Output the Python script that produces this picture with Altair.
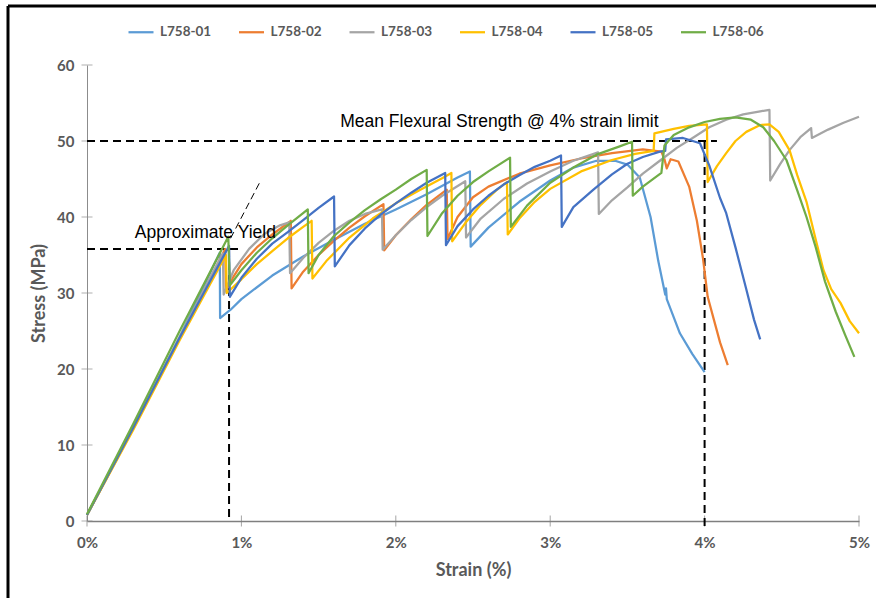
import altair as alt
import pandas as pd

series_names = ["L758-01", "L758-02", "L758-03", "L758-04", "L758-05", "L758-06"]
series_colors = ["#5B9BD5", "#ED7D31", "#A5A5A5", "#FFC000", "#4472C4", "#70AD47"]

s01_strain = [0, 0.3, 0.6, 0.86, 0.862, 0.93, 1.0, 1.2, 1.4, 1.6, 1.8, 2.0, 2.2, 2.4, 2.48, 2.485,
              2.6, 2.8, 3.0, 3.15, 3.3, 3.42, 3.5, 3.58, 3.65, 3.7, 3.745, 3.75, 3.755, 3.84, 3.92, 4.0]
s01_stress = [0.8, 12.3, 24.2, 35.3, 26.7, 27.8, 29.2, 32.3, 34.8, 37.0, 39.1, 41.0, 43.0, 45.2, 46.0, 36.1,
              38.6, 42.0, 44.8, 46.5, 47.4, 47.4, 46.9, 45.2, 40.0, 34.2, 29.8, 30.6, 29.2, 24.7, 22.0, 19.6]

s02_strain = [0, 0.3, 0.6, 0.895, 0.9, 0.95, 1.0, 1.1, 1.2, 1.32, 1.325, 1.4, 1.5, 1.6, 1.7, 1.8, 1.92,
              1.925, 2.0, 2.1, 2.2, 2.33, 2.335, 2.4, 2.5, 2.6, 2.8, 3.0, 3.2, 3.4, 3.6, 3.72, 3.74,
              3.755, 3.78, 3.83, 3.9, 3.95, 3.99, 4.02, 4.06, 4.1, 4.15]
s02_stress = [0.8, 12.2, 24.0, 35.8, 30.3, 32.2, 33.8, 36.0, 37.7, 39.5, 30.6, 32.8, 35.0, 36.9, 38.6, 40.1, 41.7,
              35.6, 37.6, 39.7, 41.6, 43.6, 37.1, 40.0, 42.6, 44.0, 45.7, 46.8, 47.7, 48.4, 48.9, 48.6, 47.6,
              46.4, 47.6, 47.3, 44.0, 39.5, 34.5, 29.5, 26.5, 23.5, 20.5]

s03_strain = [0, 0.3, 0.6, 0.88, 0.885, 0.95, 1.05, 1.15, 1.25, 1.31, 1.315, 1.4, 1.5, 1.6, 1.7, 1.8, 1.91,
              1.915, 2.0, 2.1, 2.2, 2.3, 2.45, 2.455, 2.55, 2.7, 2.85, 3.0, 3.15, 3.31, 3.315, 3.4, 3.5,
              3.6, 3.71, 3.82, 3.93, 4.03, 4.14, 4.25, 4.36, 4.42, 4.425, 4.49, 4.55, 4.62, 4.69, 4.695,
              4.8, 4.9, 5.0]
s03_stress = [0.8, 12.3, 24.2, 35.2, 29.8, 33.0, 35.8, 37.8, 38.9, 39.3, 32.6, 34.6, 36.6, 38.2, 39.5, 40.4, 41.0,
              35.7, 37.6, 39.6, 41.3, 42.8, 44.7, 37.3, 39.8, 42.4, 44.4, 46.0, 47.4, 48.5, 40.4, 42.2, 43.9,
              45.7, 47.4, 49.1, 50.5, 51.8, 52.8, 53.5, 53.9, 54.1, 44.8, 47.0, 48.8, 50.5, 51.7, 50.4,
              51.5, 52.4, 53.2]

s04_strain = [0, 0.3, 0.6, 0.9, 0.905, 1.0, 1.1, 1.2, 1.3, 1.4, 1.455, 1.46, 1.55, 1.7, 1.85, 2.0, 2.15,
              2.3, 2.36, 2.365, 2.45, 2.55, 2.65, 2.72, 2.725, 2.8, 2.9, 3.0, 3.2, 3.4, 3.55, 3.67, 3.675,
              3.8, 3.9, 4.015, 4.02, 4.08, 4.14, 4.2, 4.27, 4.36, 4.42, 4.48, 4.55, 4.6, 4.66, 4.72, 4.77,
              4.82, 4.88, 4.94, 5.0]
s04_stress = [0.8, 12.0, 23.8, 35.0, 30.0, 31.8, 33.8, 35.5, 37.2, 38.7, 39.5, 31.9, 34.2, 37.3, 39.8, 41.8, 43.5,
              45.1, 45.8, 36.8, 39.2, 41.6, 43.5, 44.6, 37.7, 39.8, 42.0, 43.7, 46.0, 47.5, 48.3, 48.7, 51.0,
              51.6, 52.0, 52.2, 44.6, 46.7, 48.4, 50.0, 51.2, 52.1, 52.2, 51.2, 48.8, 45.5, 42.0, 37.0, 33.0,
              30.5, 28.7, 26.3, 24.7]

s05_strain = [0, 0.3, 0.6, 0.92, 0.925, 1.0, 1.1, 1.2, 1.3, 1.4, 1.5, 1.6, 1.605, 1.7, 1.8, 1.9, 2.0,
              2.1, 2.2, 2.32, 2.325, 2.4, 2.5, 2.6, 2.7, 2.8, 2.9, 3.0, 3.07, 3.075, 3.15, 3.28, 3.4, 3.5,
              3.6, 3.71, 3.745, 3.75, 3.86, 3.97, 4.03, 4.1, 4.14, 4.2, 4.27, 4.32, 4.36]
s05_stress = [0.8, 12.3, 24.1, 36.2, 29.5, 32.0, 34.5, 36.5, 38.0, 39.6, 41.2, 42.7, 33.5, 36.3, 38.5, 40.3, 41.8,
              43.2, 44.5, 45.8, 36.3, 38.8, 41.0, 42.8, 44.3, 45.5, 46.6, 47.4, 48.1, 38.7, 41.3, 43.6, 45.6, 47.0,
              47.9, 48.6, 48.7, 50.2, 50.4, 49.7, 46.8, 42.5, 40.5, 36.0, 30.5, 26.5, 23.9]

s06_strain = [0, 0.3, 0.6, 0.915, 0.925, 1.0, 1.1, 1.2, 1.3, 1.43, 1.435, 1.5, 1.6, 1.7, 1.8, 1.9, 2.0,
              2.1, 2.2, 2.205, 2.3, 2.4, 2.5, 2.6, 2.74, 2.745, 2.85, 3.0, 3.15, 3.3, 3.45, 3.53, 3.535,
              3.6, 3.72, 3.74, 3.8, 3.9, 4.0, 4.1, 4.2, 4.3, 4.38, 4.45, 4.53, 4.6, 4.66, 4.72, 4.78, 4.85,
              4.91, 4.97]
s06_stress = [0.9, 12.8, 25.0, 37.4, 31.0, 33.0, 35.3, 37.2, 38.9, 41.0, 32.6, 35.0, 37.5, 39.3, 40.9, 42.3, 43.6,
              45.0, 46.2, 37.5, 40.5, 42.8, 44.6, 46.0, 47.8, 38.7, 41.5, 44.5, 46.5, 48.2, 49.3, 49.9, 42.8,
              44.0, 45.8, 49.4, 50.8, 51.8, 52.5, 52.9, 53.1, 52.8, 51.8, 50.0, 47.5, 43.5, 40.0, 36.0, 31.5, 27.5,
              24.5, 21.6]

all_strain = [s01_strain, s02_strain, s03_strain, s04_strain, s05_strain, s06_strain]
all_stress = [s01_stress, s02_stress, s03_stress, s04_stress, s05_stress, s06_stress]

# Reference guide values
yield_stress = 35.8
yield_strain = 0.92
yield_h_end = 0.99
flex_strength = 50.0
strain_limit = 4.0
flex_h_end = 4.08
slope_strain = [0.93, 1.12]
slope_stress = [37.2, 44.6]

annot_text = ["Approximate Yield", "Mean Flexural Strength @ 4% strain limit"]
annot_strain = [0.31, 1.64]
annot_stress = [37.25, 51.85]

x_ticks = [0, 1, 2, 3, 4, 5]
y_ticks = [0, 10, 20, 30, 40, 50, 60]

rows = []
for name, xs, ys in zip(series_names, all_strain, all_stress):
    for i, (a, b) in enumerate(zip(xs, ys)):
        rows.append({"series": name, "strain": a, "stress": b, "idx": i})
df = pd.DataFrame(rows)

W, H = 772, 456
PAD_L, PAD_T = 87, 65

xscale = alt.Scale(domain=[0, 5], nice=False, zero=True)
yscale = alt.Scale(domain=[0, 60], nice=False)

lines = alt.Chart(df).mark_line(strokeWidth=2.25, strokeJoin="round").encode(
    x=alt.X("strain:Q", scale=xscale,
            axis=alt.Axis(values=x_ticks, labelExpr="datum.value + '%'", title="Strain (%)",
                          ticks=False, grid=False, labelPadding=14, titlePadding=11, labelFlush=False,
                          domainColor="#7F7F7F", domainWidth=1.5)),
    y=alt.Y("stress:Q", scale=yscale,
            axis=alt.Axis(values=y_ticks, title="Stress (MPa)", ticks=False, grid=False,
                          labelPadding=13, titlePadding=8, labelFlush=False,
                          domainColor="#8C8C8C", domainWidth=1)),
    color=alt.Color("series:N", scale=alt.Scale(domain=series_names, range=series_colors),
                    legend=alt.Legend(title=None, orient="none", direction="horizontal", columns=6,
                                      legendX=40, legendY=-47, symbolType="stroke", symbolSize=625,
                                      symbolStrokeWidth=2.25, labelOffset=5, columnPadding=22.5,
                                      labelFont="Lato", labelFontSize=13.5, labelFontWeight="bold",
                                      labelColor="#595959", padding=0)),
    order="idx:Q",
)

dash_df = pd.DataFrame({
    "x": [0, yield_strain, 0, strain_limit],
    "x2": [yield_h_end, yield_strain, flex_h_end, strain_limit],
    "y": [yield_stress, yield_stress, flex_strength, flex_strength],
    "y2": [yield_stress, 0, flex_strength, -0.8],
})
dashes = alt.Chart(dash_df).mark_rule(color="black", strokeWidth=2, strokeDash=[8, 5]).encode(
    x="x:Q", x2="x2:Q", y="y:Q", y2="y2:Q")

slope_df = pd.DataFrame({"x": [slope_strain[0]], "x2": [slope_strain[1]],
                         "y": [slope_stress[0]], "y2": [slope_stress[1]]})
slope = alt.Chart(slope_df).mark_rule(color="black", strokeWidth=1, strokeDash=[7, 4]).encode(
    x="x:Q", x2="x2:Q", y="y:Q", y2="y2:Q")

annot_df = pd.DataFrame({"t": annot_text, "x": annot_strain, "y": annot_stress})
annots = alt.Chart(annot_df).mark_text(align="left", baseline="alphabetic", font="Liberation Sans",
                                       fontSize=17.5, color="black").encode(
    x="x:Q", y="y:Q", text="t:N")

ytk = alt.Chart(pd.DataFrame({"v": y_ticks})).mark_tick(orient="horizontal", size=11, thickness=1,
                                                         color="#8C8C8C").encode(
    x=alt.datum(0), y="v:Q")
xtk = alt.Chart(pd.DataFrame({"v": x_ticks})).mark_tick(orient="vertical", size=11, thickness=1,
                                                         color="#7F7F7F").encode(
    x="v:Q", y=alt.datum(0))

frame_df = pd.DataFrame({"k": [0]})
frame_top = alt.Chart(frame_df).mark_rule(color="black", strokeWidth=3).encode(
    x=alt.value(8 - PAD_L), x2=alt.value(880 - PAD_L), y=alt.value(6 - PAD_T))
frame_left = alt.Chart(frame_df).mark_rule(color="black", strokeWidth=3).encode(
    x=alt.value(8 - PAD_L), y=alt.value(6 - PAD_T), y2=alt.value(600 - PAD_T))

chart = alt.layer(ytk, xtk, dashes, slope, lines, annots, frame_top, frame_left).properties(
    width=W, height=H,
    autosize=alt.AutoSizeParams(type="none"),
    padding={"left": PAD_L, "top": PAD_T, "right": 876 - PAD_L - W, "bottom": 598 - PAD_T - H},
    background="white",
).configure_view(stroke=None).configure_axis(
    labelFont="Lato", labelFontSize=15, labelFontWeight="bold", labelColor="#595959",
    titleFont="Lato", titleFontSize=18, titleFontWeight="bold", titleColor="#595959",
)

chart.save("out.html", embed_options={"renderer": "svg", "actions": False})
